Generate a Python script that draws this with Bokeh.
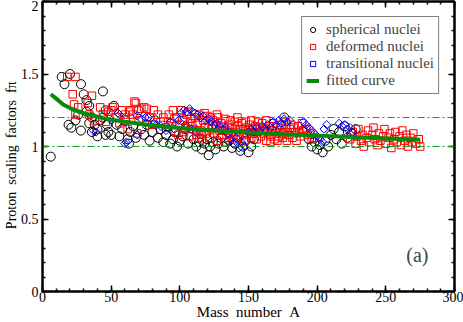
from bokeh.plotting import figure
from bokeh.models import (Range1d, LinearAxis, SingleIntervalTicker, NumeralTickFormatter,
                          Span, Label, Legend, LegendItem)
from bokeh.embed import file_html
from bokeh.resources import INLINE
import math

# ---------------- data ----------------
sph_A = [6, 14, 16, 20, 28, 19, 21, 28, 30, 32, 34, 36, 38, 40, 40, 42, 44, 46, 47, 48,
         26, 24, 32, 34, 36, 44, 46, 50, 52, 54, 56, 58, 60, 62, 63, 64, 66, 68, 70, 72,
         74, 76, 78, 80, 82, 84, 86, 88, 90, 92, 93, 95, 96, 98, 100, 102, 104, 106, 110,
         112, 114, 116, 118, 120, 121, 122, 124, 126, 128, 130, 132,
         136, 138, 140, 142, 144, 146, 148, 150, 152, 154, 176,
         190, 194, 196, 198, 200, 202, 204, 206, 208, 210, 212, 214, 216, 218, 220, 222, 225, 228]
sph_f = [0.93, 1.48, 1.43, 1.50, 1.43, 1.15, 1.13, 1.11, 1.36, 1.32, 1.28, 1.20, 1.15, 1.07, 1.12, 1.18, 1.38, 1.25, 1.15, 1.10,
         1.22, 1.18, 1.24, 1.16, 1.10, 1.20, 1.08, 1.08, 1.28, 1.15, 1.07, 1.12, 1.18, 1.05, 1.02, 1.10, 1.14, 1.06, 1.25, 1.12,
         1.08, 1.15, 1.04, 1.10, 1.18, 1.06, 1.12, 1.03, 1.08, 1.14, 1.02, 1.05, 1.10, 1.00, 1.04, 1.07, 1.12, 1.02, 1.05,
         1.00, 1.03, 0.98, 1.02, 1.05, 0.94, 1.00, 1.03, 0.98, 1.02, 1.06, 1.00,
         1.04, 0.99, 1.02, 1.06, 0.97, 1.00, 1.04, 0.96, 1.00, 1.05, 1.20,
         1.10, 1.05, 1.00, 1.03, 0.98, 1.01, 0.96, 1.04, 1.00, 1.08, 1.12, 1.05, 1.10, 1.02, 1.14, 1.06, 1.09, 1.12]

def_A = [18, 24, 22, 23, 24, 26, 33, 36, 34, 38, 42, 44, 46, 48,
         50, 51, 54, 56, 58, 60, 62, 63, 64, 66, 67, 68, 69, 70, 72, 74, 76, 78, 80, 81, 84, 86, 88, 90, 92, 94, 95, 97, 98, 100,
         102, 103, 105, 106, 107, 108, 110, 111, 112, 113, 114, 115, 116, 117, 118, 119, 120, 121, 122, 123, 124, 125, 126, 127,
         128, 129, 130, 131, 132, 133, 134, 135, 136, 137, 138, 139, 140, 141, 142, 143, 144, 145, 146, 147, 148, 149, 150,
         151, 152, 153, 154, 155, 156, 157, 158, 159, 160, 161, 162, 163, 164, 165, 166, 167, 168, 169, 170, 171, 172, 173, 174,
         175, 176, 177, 178, 179, 180, 182, 184, 186, 188, 190, 193, 196,
         104, 109, 116, 124, 131, 139, 146, 153, 161, 168, 175, 183, 187,
         96, 99, 101, 106, 114, 118, 122, 127, 133, 137, 142, 148, 152, 157, 163, 166, 171, 177, 181, 185, 189, 192, 195, 198,
         224, 226, 228, 229, 230, 232, 233, 234, 236, 237, 238, 240, 241, 242, 244, 245, 246, 248, 249, 250, 252, 253, 254, 256,
         257, 258, 260, 261, 262, 264, 265, 266, 268, 269, 270, 272, 274, 275]
def_f = [1.48, 1.48, 1.36, 1.29, 1.22, 1.27, 1.30, 1.35, 1.22, 1.18, 1.27, 1.22, 1.17, 1.24,
         1.25, 1.27, 1.20, 1.16, 1.25, 1.22, 1.12, 1.24, 1.25, 1.22, 1.31, 1.30, 1.09, 1.18, 1.26, 1.27, 1.26, 1.20, 1.15, 1.25, 1.22, 1.17, 1.20, 1.13, 1.22, 1.16, 1.25, 1.10, 1.20, 1.15,
         1.18, 1.10, 1.22, 1.14, 1.07, 1.19, 1.12, 1.20, 1.08, 1.16, 1.22, 1.11, 1.05, 1.18, 1.13, 1.09, 1.21, 1.15, 1.06, 1.12, 1.18, 1.09, 1.14, 1.04,
         1.20, 1.11, 1.16, 1.08, 1.13, 1.19, 1.06, 1.11, 1.15, 1.09, 1.13, 1.05, 1.17, 1.10, 1.14, 1.07, 1.12, 1.16, 1.09, 1.04, 1.13, 1.08, 1.11,
         1.15, 1.06, 1.12, 1.09, 1.14, 1.05, 1.10, 1.13, 1.07, 1.16, 1.09, 1.12, 1.04, 1.10, 1.14, 1.07, 1.11, 1.16, 1.05, 1.09, 1.13, 1.07, 1.11, 1.15,
         1.06, 1.10, 1.13, 1.04, 1.08, 1.12, 1.06, 1.10, 1.14, 1.07, 1.11, 1.08, 1.05,
         1.13, 1.16, 1.09, 1.15, 1.11, 1.08, 1.12, 1.09, 1.11, 1.14, 1.09, 1.13, 1.10,
         1.19, 1.08, 1.25, 1.24, 1.06, 1.23, 1.20, 1.22, 1.03, 1.18, 1.20, 1.17, 1.18, 1.17, 1.18, 1.03, 1.04, 1.17, 1.15, 1.04, 1.16, 1.12, 1.09, 1.06,
         1.05, 1.10, 1.02, 1.07, 1.12, 1.04, 1.08, 1.00, 1.06, 1.11, 1.03, 1.08, 1.13, 1.05, 1.01, 1.09, 1.04, 1.07, 1.12, 1.02, 1.06, 1.09, 0.99, 1.05,
         1.10, 1.03, 1.07, 1.01, 1.11, 1.04, 1.08, 1.00, 1.06, 1.03, 1.09, 1.02, 1.05, 1.00]

tra_A = [37, 39, 50, 55, 56, 60, 61, 69, 69, 72, 75, 77, 81, 83, 86, 90, 93, 96, 99,
         101, 103, 105, 107, 109, 111, 113, 115, 117, 119, 121, 123, 125, 127, 129, 131, 133, 104, 108, 112,
         135, 137, 139, 141, 143, 145, 147,
         150, 152, 154, 156, 158, 160, 162, 164, 166, 168, 170, 172, 174, 176, 178, 180,
         190, 192, 194, 196, 198, 200, 202, 204, 205, 207,
         216, 218, 220, 222, 224, 226]
tra_f = [1.11, 1.10, 1.18, 1.23, 1.22, 1.02, 1.03, 1.08, 1.21, 1.19, 1.20, 1.20, 1.16, 1.15, 1.14, 1.11, 1.17, 1.12, 1.18,
         1.23, 1.25, 1.24, 1.26, 1.24, 1.23, 1.22, 1.20, 1.21, 1.18, 1.19, 1.17, 1.15, 1.16, 1.14, 1.12, 1.13, 1.15, 1.12, 1.10,
         1.09, 1.05, 1.02, 1.06, 0.99, 1.03, 1.00,
         1.10, 1.12, 1.10, 1.13, 1.11, 1.14, 1.12, 1.15, 1.13, 1.17, 1.15, 1.18, 1.16, 1.19, 1.17, 1.18,
         1.17, 1.15, 1.13, 1.11, 1.09, 1.07, 1.05, 1.03, 1.12, 1.15,
         1.16, 1.14, 1.15, 1.12, 1.13, 1.10]

fit_A = [6, 10, 15, 20, 25, 30, 40, 50, 60, 80, 100, 125, 150, 175, 200, 225, 250, 275]
fit_f = [1.36, 1.33, 1.29, 1.265, 1.245, 1.23, 1.205, 1.185, 1.17, 1.145, 1.127, 1.11, 1.097, 1.085, 1.075, 1.065, 1.056, 1.047]

ref_levels = [1.0, 1.2]

x_limits = (0, 300)
y_limits = (0, 2)

FONT = "Liberation Serif"
NB = "\u00a0"
W, H = 463, 322

# ---------------- figure ----------------
p = figure(width=W, height=H, output_backend="svg", toolbar_location=None,
           x_range=Range1d(*x_limits), y_range=Range1d(*y_limits),
           min_border_left=0, min_border_right=9, min_border_top=1, min_border_bottom=0)
p.grid.visible = False
p.background_fill_color = "white"
p.border_fill_color = "white"
p.outline_line_color = "black"
p.outline_line_width = 2

xt = SingleIntervalTicker(interval=50, num_minor_ticks=5)
yt = SingleIntervalTicker(interval=0.5, num_minor_ticks=5)

def style(ax, show_labels):
    ax.axis_line_width = 2
    ax.axis_line_color = "black"
    ax.major_tick_in = 6
    ax.major_tick_out = 0
    ax.minor_tick_in = 3
    ax.minor_tick_out = 0
    ax.major_tick_line_width = 1.5
    ax.minor_tick_line_width = 1.5
    ax.major_tick_line_color = "black"
    ax.minor_tick_line_color = "black"
    if show_labels:
        ax.major_label_text_font = FONT
        ax.major_label_text_font_size = "14px"
        ax.major_label_text_color = "black"
        ax.axis_label_text_font = FONT
        ax.axis_label_text_font_style = "normal"
        ax.axis_label_text_color = "black"
    else:
        ax.major_label_text_font_size = "1px"
        ax.major_label_text_color = None
        ax.major_label_standoff = 0

p.xaxis.ticker = xt
p.yaxis.ticker = yt
p.yaxis.formatter = NumeralTickFormatter(format="0.[0]")
style(p.xaxis[0], True)
style(p.yaxis[0], True)
p.xaxis.major_label_standoff = 0
p.xaxis.axis_label = "Mass" + NB + NB + "number" + NB + NB + "A"
p.xaxis.axis_label_text_font_size = "15px"
p.xaxis.axis_label_standoff = -1
p.yaxis.major_label_standoff = 4
p.yaxis.axis_label = ("Proton" + NB + NB + "scaling" + NB + NB + "factors" + NB + NB + "fπ"
                      + NB * 5)
p.yaxis.axis_label_text_font_size = "14px"
p.yaxis.axis_label_standoff = -1

top = LinearAxis(ticker=xt)
right = LinearAxis(ticker=yt)
style(top, False)
style(right, False)
p.add_layout(top, "above")
p.add_layout(right, "right")

# ---------------- glyphs ----------------
r_sph = p.scatter(sph_A, sph_f, marker="circle", size=9, fill_color=None,
                  line_color="black", line_width=1)
r_def = p.scatter(def_A, def_f, marker="square", size=7.5, fill_color=None,
                  line_color="#ff0000", line_width=1)
r_tra = p.scatter(tra_A, tra_f, marker="square", angle=math.pi / 4, size=5.8, fill_color=None,
                  line_color="#0000ff", line_width=1)

for lv in ref_levels:
    p.add_layout(Span(location=lv, dimension="width", line_color="#14a014",
                      line_width=1, line_dash="7 3 2 3"))

r_fit = p.line(fit_A, fit_f, line_color="#078a07", line_width=4)

legend = Legend(items=[
    LegendItem(label="spherical nuclei", renderers=[r_sph]),
    LegendItem(label="deformed nuclei", renderers=[r_def]),
    LegendItem(label="transitional nuclei", renderers=[r_tra]),
    LegendItem(label="fitted curve", renderers=[r_fit]),
], location="top_right")
legend.label_text_font = FONT
legend.label_text_font_size = "15px"
legend.label_height = 13
legend.glyph_height = 13
legend.glyph_width = 13
legend.label_standoff = 7
legend.spacing = -2
legend.padding = 4
legend.margin = 15
legend.border_line_color = "black"
legend.border_line_width = 1
legend.background_fill_alpha = 1
p.add_layout(legend)

p.add_layout(Label(x=273, y=0.25, text="(a)", text_font=FONT, text_font_size="20px",
                   text_align="center", text_baseline="middle"))

open("out.html", "w").write(file_html(p, INLINE))
